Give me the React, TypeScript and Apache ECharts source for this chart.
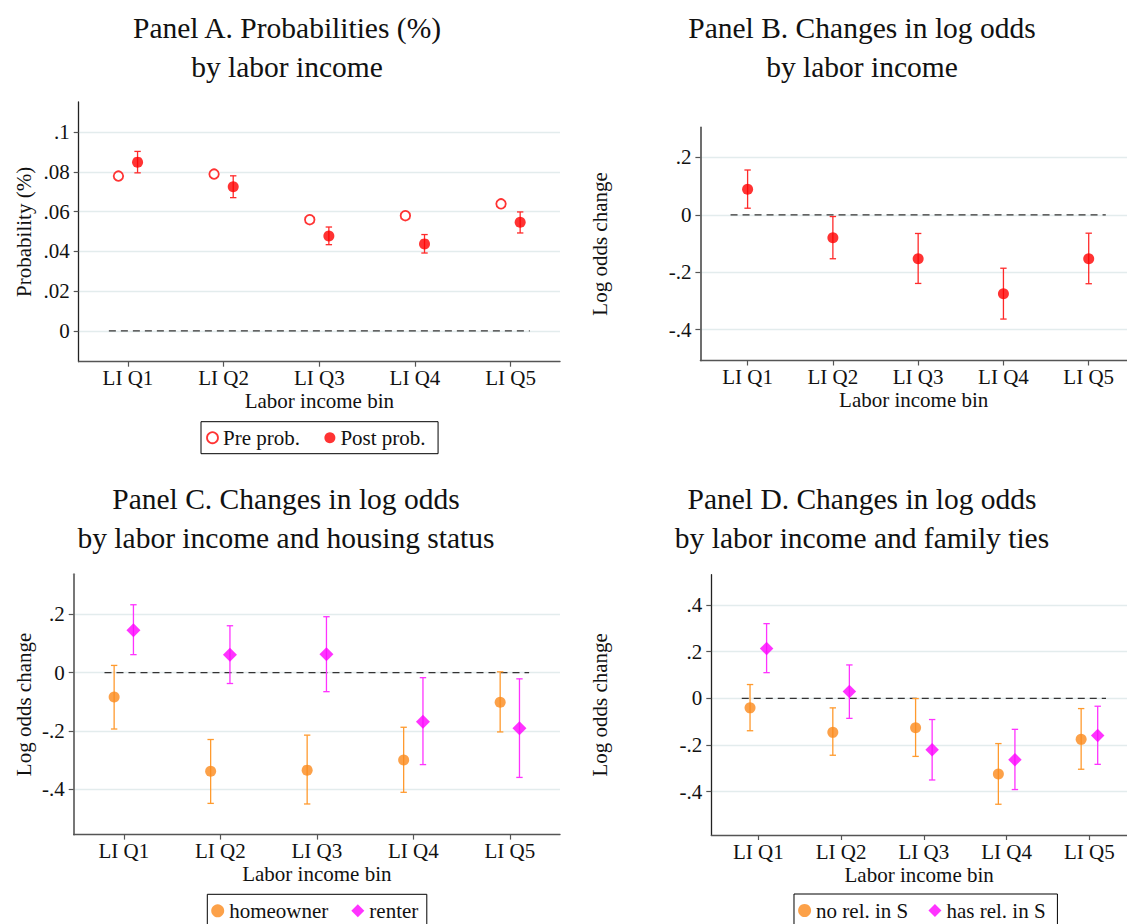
import React, { useEffect, useRef } from "react";
import * as echarts from "echarts";

// ---------- data ----------
const categories = ["LI Q1", "LI Q2", "LI Q3", "LI Q4", "LI Q5"];
const catPos = [1, 2, 3, 4, 5];

// Panel A: probabilities
const preProb = [0.078, 0.079, 0.056, 0.058, 0.064];
const postProb = [0.085, 0.0726, 0.0478, 0.0438, 0.0547];
const postLo = [0.0796, 0.0671, 0.0434, 0.0392, 0.0493];
const postHi = [0.0904, 0.0781, 0.0523, 0.0485, 0.0599];

// Panel B: changes in log odds
const allEst = [0.089, -0.08, -0.153, -0.275, -0.153];
const allLo = [0.023, -0.153, -0.239, -0.363, -0.24];
const allHi = [0.156, -0.006, -0.065, -0.186, -0.064];

// Panel C: housing status
const homeEst = [-0.083, -0.338, -0.334, -0.299, -0.101];
const homeLo = [-0.193, -0.448, -0.45, -0.41, -0.203];
const homeHi = [0.025, -0.229, -0.214, -0.187, 0.003];
const rentEst = [0.146, 0.062, 0.063, -0.168, -0.19];
const rentLo = [0.062, -0.037, -0.065, -0.315, -0.359];
const rentHi = [0.233, 0.161, 0.192, -0.017, -0.021];

// Panel D: family ties
const noRelEst = [-0.041, -0.146, -0.126, -0.324, -0.176];
const noRelLo = [-0.139, -0.244, -0.249, -0.454, -0.304];
const noRelHi = [0.059, -0.041, -0.001, -0.194, -0.044];
const hasRelEst = [0.213, 0.029, -0.221, -0.263, -0.159];
const hasRelLo = [0.11, -0.086, -0.35, -0.391, -0.283];
const hasRelHi = [0.32, 0.143, -0.091, -0.133, -0.034];

// tick values
const yTicksA = [0, 0.02, 0.04, 0.06, 0.08, 0.1];
const yTicksB = [-0.4, -0.2, 0, 0.2];
const yTicksC = [-0.4, -0.2, 0, 0.2];
const yTicksD = [-0.4, -0.2, 0, 0.2, 0.4];

// reference line (y = 0) extent in category units
const refLineX = [0.8, 5.2];
const refLineY = 0;

// ---------- styling ----------
const FONT = "'Liberation Serif', 'Times New Roman', serif";
const TXT = "#111";
const RED = "#ff0000";
const RED_BAR = "#ff2a2a";
const ORANGE = "#fb8a1c";
const ORANGE_BAR = "#ff9a2e";
const MAGENTA = "#ff00ff";
const MAGENTA_BAR = "#ff33ff";
const SHIFT = 0.1;

const fmtY = (v: number) => {
  const s = String(Math.round(v * 1000) / 1000);
  return s.replace(/^(-?)0\./, "$1.");
};

const xAxisOf = (gridIndex: number, min: number, max: number) => ({
  type: "value",
  gridIndex,
  min,
  max,
  axisLine: { show: true, onZero: false, lineStyle: { color: "#555", width: 1.4 } },
  axisTick: { show: true, customValues: catPos, length: 5, lineStyle: { color: "#555", width: 1.2 } },
  axisLabel: {
    show: true,
    customValues: catPos,
    formatter: (v: number) => categories[Math.round(v) - 1],
    margin: 6,
    fontSize: 21,
    fontFamily: FONT,
    color: TXT,
  },
  splitLine: { show: false },
  name: "Labor income bin",
  nameLocation: "middle",
  nameGap: 29,
  nameTextStyle: { fontSize: 21, fontFamily: FONT, color: TXT },
});

const yAxisOf = (
  gridIndex: number,
  min: number,
  max: number,
  ticks: number[],
  name: string,
  nameGap: number,
  lineColor: string,
  lineWidth: number
) => ({
  type: "value",
  gridIndex,
  min,
  max,
  axisLine: { show: true, onZero: false, lineStyle: { color: lineColor, width: lineWidth } },
  axisTick: { show: true, customValues: ticks, length: 5, lineStyle: { color: "#555", width: 1.2 } },
  axisLabel: {
    show: true,
    customValues: ticks,
    formatter: fmtY,
    margin: 9,
    fontSize: 21,
    fontFamily: FONT,
    color: TXT,
  },
  splitLine: { show: true, lineStyle: { color: "#e3eced", width: 1.3 } },
  name,
  nameLocation: "middle",
  nameGap,
  nameTextStyle: { fontSize: 21, fontFamily: FONT, color: TXT },
});

const refLine = (idx: number) => ({
  type: "line",
  xAxisIndex: idx,
  yAxisIndex: idx,
  data: refLineX.map((x) => [x, refLineY]),
  symbol: "none",
  silent: true,
  z: 1,
  lineStyle: { color: "#333", width: 1.3, type: [7, 5] },
});

const errBars = (idx: number, shift: number, lo: number[], hi: number[], color: string) => ({
  type: "custom",
  xAxisIndex: idx,
  yAxisIndex: idx,
  silent: true,
  z: 2,
  data: catPos.map((p, i) => [p + shift, lo[i], hi[i]]),
  encode: { x: 0, y: [1, 2] },
  renderItem: (_params: any, api: any) => {
    const x = api.value(0);
    const a = api.coord([x, api.value(2)]);
    const b = api.coord([x, api.value(1)]);
    const st = { stroke: color, lineWidth: 1.3 };
    const hw = 3.2;
    return {
      type: "group",
      children: [
        { type: "line", shape: { x1: a[0], y1: a[1], x2: b[0], y2: b[1] }, style: st },
        { type: "line", shape: { x1: a[0] - hw, y1: a[1], x2: a[0] + hw, y2: a[1] }, style: st },
        { type: "line", shape: { x1: b[0] - hw, y1: b[1], x2: b[0] + hw, y2: b[1] }, style: st },
      ],
    };
  },
});

const points = (
  idx: number,
  name: string | undefined,
  shift: number,
  vals: number[],
  symbol: string,
  size: number,
  itemStyle: any
) => ({
  type: "scatter",
  name,
  xAxisIndex: idx,
  yAxisIndex: idx,
  data: catPos.map((p, i) => [p + shift, vals[i]]),
  symbol,
  symbolSize: size,
  itemStyle,
  z: 3,
  silent: true,
});

const titleOf = (text: string, centerX: number, top: number) => ({
  text,
  left: centerX,
  top,
  textAlign: "center",
  padding: 0,
  textStyle: { fontFamily: FONT, fontSize: 29.5, fontWeight: "normal", color: TXT, lineHeight: 38.5 },
});

const legendOf = (left: number, top: number, padding: number[], itemGap: number, size: number, data: any[]) => ({
  left,
  top,
  orient: "horizontal",
  padding,
  itemGap,
  itemWidth: size,
  itemHeight: size,
  borderColor: "#000",
  borderWidth: 1,
  backgroundColor: "#fff",
  selectedMode: false,
  textStyle: { fontSize: 21, fontFamily: FONT, color: TXT },
  data,
});

export default function App() {
  const ref = useRef<HTMLDivElement>(null);

  useEffect(() => {
    document.body.style.margin = "0";
    const chart = echarts.init(ref.current!, null, { renderer: "svg" });
    const option: any = {
      animation: false,
      backgroundColor: "#fff",
      title: [
        titleOf("Panel A. Probabilities (%)\nby labor income", 287, 9),
        titleOf("Panel B. Changes in log odds\nby labor income", 862, 9),
        titleOf("Panel C. Changes in log odds\nby labor income and housing status", 286, 480),
        titleOf("Panel D. Changes in log odds\nby labor income and family ties", 862, 480),
      ],
      grid: [
        { left: 78.7, top: 102, width: 481.3, height: 259.7 },
        { left: 700.4, top: 127.3, width: 426.6, height: 233.2 },
        { left: 73.7, top: 574.3, width: 486.3, height: 260.3 },
        { left: 711.3, top: 574.7, width: 415.7, height: 260.3 },
      ].map((g) => ({ ...g, containLabel: false, outerBoundsMode: "none" })),
      xAxis: [
        xAxisOf(0, 0.4846, 5.5165),
        xAxisOf(1, 0.4465, 5.449),
        xAxisOf(2, 0.481, 5.52),
        xAxisOf(3, 0.432, 5.454),
      ],
      yAxis: [
        yAxisOf(0, -0.01557, 0.1153, yTicksA, "Probability (%)", 44, "#222", 1.3),
        yAxisOf(1, -0.5073, 0.3047, yTicksB, "Log odds change", 89.7, "#555", 1.7),
        yAxisOf(2, -0.555, 0.3374, yTicksC, "Log odds change", 39.6, "#777", 2),
        yAxisOf(3, -0.5858, 0.5297, yTicksD, "Log odds change", 100.6, "#222", 1.3),
      ],
      legend: [
        legendOf(201, 421.7, [5.5, 12.5, 5.5, 5.1], 24.4, 11, [
          { name: "Pre prob.", icon: "circle", itemStyle: { color: "#fff", borderColor: RED, borderWidth: 1.8 } },
          { name: "Post prob.", icon: "circle", itemStyle: { color: RED } },
        ]),
        legendOf(207.3, 894.3, [6, 8.5, 6, 3.9], 23, 13, [
          { name: "homeowner", icon: "circle", itemStyle: { color: ORANGE } },
          { name: "renter", icon: "diamond", itemStyle: { color: MAGENTA } },
        ]),
        legendOf(794, 894, [6, 11.8, 6, 4.1], 20.2, 13, [
          { name: "no rel. in S", icon: "circle", itemStyle: { color: ORANGE } },
          { name: "has rel. in S", icon: "diamond", itemStyle: { color: MAGENTA } },
        ]),
      ],
      series: [
        // Panel A
        refLine(0),
        points(0, "Pre prob.", -SHIFT, preProb, "circle", 9.5, { color: "#fff", borderColor: RED, borderWidth: 1.8 }),
        errBars(0, SHIFT, postLo, postHi, RED_BAR),
        points(0, "Post prob.", SHIFT, postProb, "circle", 11, { color: RED }),
        // Panel B
        refLine(1),
        errBars(1, 0, allLo, allHi, RED_BAR),
        points(1, "Log odds change", 0, allEst, "circle", 11, { color: RED }),
        // Panel C
        refLine(2),
        errBars(2, -SHIFT, homeLo, homeHi, ORANGE_BAR),
        points(2, "homeowner", -SHIFT, homeEst, "circle", 11, { color: ORANGE }),
        errBars(2, SHIFT, rentLo, rentHi, MAGENTA_BAR),
        points(2, "renter", SHIFT, rentEst, "diamond", 14, { color: MAGENTA }),
        // Panel D
        refLine(3),
        errBars(3, -SHIFT, noRelLo, noRelHi, ORANGE_BAR),
        points(3, "no rel. in S", -SHIFT, noRelEst, "circle", 11, { color: ORANGE }),
        errBars(3, SHIFT, hasRelLo, hasRelHi, MAGENTA_BAR),
        points(3, "has rel. in S", SHIFT, hasRelEst, "diamond", 13.5, { color: MAGENTA }),
      ],
    };
    chart.setOption(option);
    return () => chart.dispose();
  }, []);

  return (
    <div
      ref={ref}
      style={{ position: "absolute", left: 0, top: 0, width: 1127, height: 924 }}
    />
  );
}
